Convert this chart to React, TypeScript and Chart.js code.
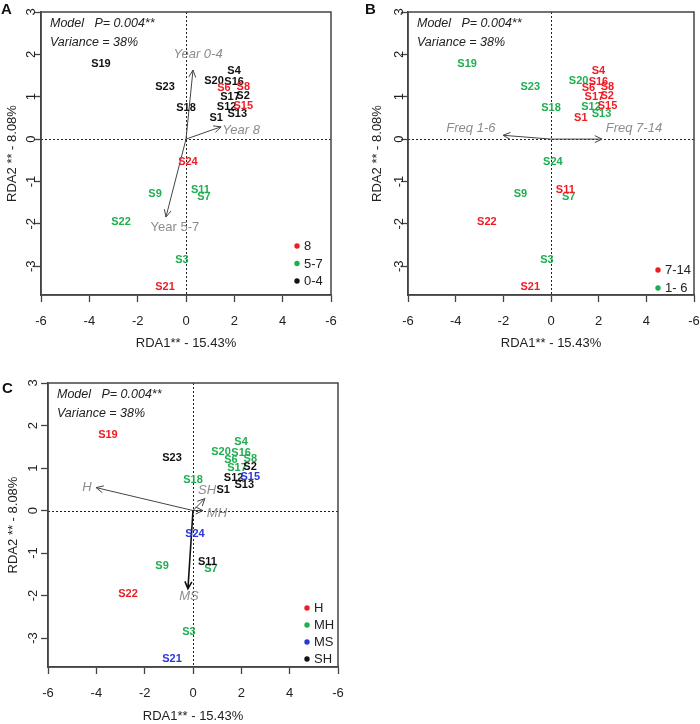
import React, { useEffect, useRef } from "react";
import { Chart, registerables } from "chart.js";

Chart.register(...registerables);

// ---------- data ----------
const siteNames = ["S19", "S23", "S18", "S20", "S4", "S16", "S6", "S8", "S17", "S2", "S12", "S15", "S13", "S1", "S24", "S9", "S11", "S7", "S22", "S3", "S21"];
const siteRDA1 = [-3.52, -0.87, 0.0, 1.16, 1.99, 1.99, 1.57, 2.37, 1.82, 2.36, 1.68, 2.37, 2.12, 1.25, 0.08, -1.28, 0.6, 0.74, -2.69, -0.17, -0.87];
const siteRDA2 = [1.77, 1.23, 0.73, 1.37, 1.61, 1.35, 1.2, 1.22, 0.99, 1.02, 0.76, 0.78, 0.59, 0.49, -0.54, -1.3, -1.21, -1.37, -1.96, -2.86, -3.48];

// Panel A: years
const groupsA = ["0-4", "0-4", "0-4", "0-4", "0-4", "0-4", "8", "8", "0-4", "0-4", "0-4", "8", "0-4", "0-4", "8", "5-7", "5-7", "5-7", "5-7", "5-7", "8"];
const legendA = ["8", "5-7", "0-4"];
const drawOrderA = ["0-4", "5-7", "8"];
const arrowNamesA = ["Year 0-4", "Year 8", "Year 5-7"];
const arrowXA = [0.29, 1.45, -0.83];
const arrowYA = [1.63, 0.29, -1.84];
const arrowLabelXA = [0.5, 2.28, -0.46];
const arrowLabelYA = [2.01, 0.21, -2.08];
const arrowItalicA = [true, true, false];

// Panel B: frequency
const groupsB = ["1-6", "1-6", "1-6", "1-6", "7-14", "7-14", "7-14", "7-14", "7-14", "7-14", "1-6", "7-14", "1-6", "7-14", "1-6", "1-6", "7-14", "1-6", "7-14", "1-6", "7-14"];
const legendB = ["7-14", "1-6"];
const legendTextB = ["7-14", "1- 6"];
const drawOrderB = ["1-6", "7-14"];
const arrowNamesB = ["Freq 1-6", "Freq 7-14"];
const arrowXB = [-2.01, 2.14];
const arrowYB = [0.09, 0.0];
const arrowLabelXB = [-3.36, 3.48];
const arrowLabelYB = [0.26, 0.26];
const arrowItalicB = [true, true];

// Panel C: habitat
const groupsC = ["H", "SH", "MH", "MH", "MH", "MH", "MH", "MH", "MH", "SH", "SH", "MS", "SH", "SH", "MS", "MH", "SH", "MH", "H", "MH", "MS"];
const legendC = ["H", "MH", "MS", "SH"];
const drawOrderC = ["MH", "SH", "MS", "H"];
const arrowNamesC = ["H", "SH", "MH", "MS"];
const arrowXC = [-4.01, 0.49, 0.41, -0.21];
const arrowYC = [0.54, 0.28, 0.0, -1.84];
const arrowLabelXC = [-4.39, 0.58, 0.99, -0.17];
const arrowLabelYC = [0.54, 0.47, -0.07, -2.02];
const arrowItalicC = [true, true, true, true];

const xTickValues = [-6, -4, -2, 0, 2, 4, 6];
const xTickLabels = ["-6", "-4", "-2", "0", "2", "4", "-6"];
const yTickValues = [-3, -2, -1, 0, 1, 2, 3];
const xTitle = "RDA1** - 15.43%";
const yTitle = "RDA2 ** - 8.08%";
const modelLine1 = "Model   P= 0.004**";
const modelLine2 = "Variance = 38%";

// ---------- styles ----------
const FONT = "'Liberation Sans', Arial, sans-serif";
const RED = "#ee1c24";
const GREEN = "#1fae50";
const BLUE = "#2a36d8";
const BLACK = "#111111";
const AXIS = "#444444";

const colorMap: Record<string, string> = {
  "8": RED, "5-7": GREEN, "0-4": BLACK,
  "7-14": RED, "1-6": GREEN,
  H: RED, MH: GREEN, MS: BLUE, SH: BLACK,
};

type PanelProps = {
  left: number; top: number; width: number; height: number;
  area: { l: number; t: number; r: number; b: number };
  groups: string[]; drawOrder: string[]; legend: string[]; legendText?: string[];
  arrowNames: string[]; arrowX: number[]; arrowY: number[]; arrowLX: number[]; arrowLY: number[]; arrowItalic: boolean[];
  arrowStyle?: (name: string) => { color: string; width: number };
  legendPos: { x: number; y: number; dy: number };
  xTitlePad: number; yTitlePad: number; yTickOffset: number;
};

function Panel(p: PanelProps) {
  const ref = useRef<HTMLCanvasElement | null>(null);
  useEffect(() => {
    if (!ref.current) return;
    const datasets = p.drawOrder.map((g) => ({
      label: g,
      data: siteNames
        .map((n, i) => ({ x: siteRDA1[i], y: siteRDA2[i], name: n, g: p.groups[i] }))
        .filter((d) => d.g === g),
      pointRadius: 0,
      pointHoverRadius: 0,
      showLine: false,
      backgroundColor: colorMap[g],
      borderColor: colorMap[g],
    }));

    const biplot = {
      id: "biplot",
      beforeDatasetsDraw(chart: any) {
        const { ctx, chartArea: ca, scales } = chart;
        const xs = scales.x, ys = scales.y;
        ctx.save();
        ctx.strokeStyle = "#222";
        ctx.lineWidth = 1;
        ctx.setLineDash([2, 2]);
        const x0 = Math.round(xs.getPixelForValue(0)) + 0.5;
        const y0 = Math.round(ys.getPixelForValue(0)) + 0.5;
        ctx.beginPath();
        ctx.moveTo(x0, ca.top); ctx.lineTo(x0, ca.bottom);
        ctx.moveTo(ca.left, y0); ctx.lineTo(ca.right, y0);
        ctx.stroke();
        ctx.setLineDash([]);
        ctx.strokeStyle = AXIS;
        ctx.lineWidth = 1.5;
        ctx.strokeRect(ca.left, ca.top, ca.right - ca.left, ca.bottom - ca.top);
        ctx.restore();
      },
      afterDatasetsDraw(chart: any) {
        const { ctx, chartArea: ca, scales } = chart;
        const xs = scales.x, ys = scales.y;
        ctx.save();
        // y tick labels, rotated as in R
        ctx.fillStyle = "#222";
        ctx.font = `13px ${FONT}`;
        ctx.textAlign = "center";
        ctx.textBaseline = "middle";
        yTickValues.forEach((v) => {
          const py = ys.getPixelForValue(v);
          ctx.save();
          ctx.translate(ca.left - p.yTickOffset, py);
          ctx.rotate(-Math.PI / 2);
          ctx.fillText(String(v), 0, 0);
          ctx.restore();
        });
        // arrows
        const ox = xs.getPixelForValue(0), oy = ys.getPixelForValue(0);
        p.arrowNames.forEach((name, i) => {
          const st = p.arrowStyle ? p.arrowStyle(name) : { color: "#444", width: 1 };
          const tx = xs.getPixelForValue(p.arrowX[i]);
          const ty = ys.getPixelForValue(p.arrowY[i]);
          const ang = Math.atan2(ty - oy, tx - ox);
          const hl = 8, spread = Math.PI / 7;
          ctx.strokeStyle = st.color;
          ctx.lineWidth = st.width;
          ctx.beginPath();
          ctx.moveTo(ox, oy); ctx.lineTo(tx, ty);
          ctx.moveTo(tx - hl * Math.cos(ang - spread), ty - hl * Math.sin(ang - spread));
          ctx.lineTo(tx, ty);
          ctx.lineTo(tx - hl * Math.cos(ang + spread), ty - hl * Math.sin(ang + spread));
          ctx.stroke();
          ctx.fillStyle = "#8c8c8c";
          ctx.font = `${p.arrowItalic[i] ? "italic " : ""}13px ${FONT}`;
          ctx.textAlign = "center";
          ctx.textBaseline = "middle";
          ctx.fillText(name, xs.getPixelForValue(p.arrowLX[i]), ys.getPixelForValue(p.arrowLY[i]));
        });
        // site labels
        ctx.font = `bold 11px ${FONT}`;
        ctx.textAlign = "center";
        ctx.textBaseline = "middle";
        chart.data.datasets.forEach((ds: any, di: number) => {
          const meta = chart.getDatasetMeta(di);
          ctx.fillStyle = ds.borderColor;
          meta.data.forEach((el: any, j: number) => {
            ctx.fillText(ds.data[j].name, el.x, el.y);
          });
        });
        // model text
        ctx.fillStyle = "#222";
        ctx.font = `italic 12.5px ${FONT}`;
        ctx.textAlign = "left";
        ctx.fillText(modelLine1, ca.left + 9, ca.top + 12);
        ctx.fillText(modelLine2, ca.left + 9, ca.top + 31);
        // legend
        p.legend.forEach((g, i) => {
          const ly = p.legendPos.y + i * p.legendPos.dy;
          ctx.fillStyle = colorMap[g];
          ctx.beginPath();
          ctx.arc(p.legendPos.x, ly, 2.7, 0, Math.PI * 2);
          ctx.fill();
          ctx.fillStyle = "#222";
          ctx.font = `13px ${FONT}`;
          ctx.textAlign = "left";
          ctx.fillText(p.legendText ? p.legendText[i] : g, p.legendPos.x + 7, ly + 0.5);
        });
        ctx.restore();
      },
    };

    const chart = new Chart(ref.current, {
      type: "scatter",
      data: { datasets },
      plugins: [biplot],
      options: {
        animation: false,
        responsive: false,
        events: [],
        layout: { padding: { left: 0, top: p.area.t, right: p.width - p.area.r, bottom: 0 } },
        plugins: { legend: { display: false }, tooltip: { enabled: false } },
        scales: {
          x: {
            type: "linear",
            position: "bottom",
            min: -6,
            max: 6,
            afterBuildTicks: (s: any) => { s.ticks = xTickValues.map((v) => ({ value: v })); },
            afterFit: (s: any) => {
              s.height = p.height - p.area.b;
              s.paddingLeft = 0;
              s.paddingRight = 0;
            },
            ticks: {
              callback: (_v: any, i: number) => xTickLabels[i],
              font: { family: FONT, size: 13 },
              color: "#222",
              padding: 12,
              maxRotation: 0,
              minRotation: 0,
              autoSkip: false,
            },
            grid: { display: true, drawOnChartArea: false, drawTicks: true, tickLength: 7, tickColor: AXIS, tickWidth: 1.3 },
            border: { display: true, color: AXIS, width: 1.5 },
            title: { display: true, text: xTitle, font: { family: FONT, size: 13 }, color: "#222", padding: { top: 0, bottom: p.xTitlePad } },
          },
          y: {
            type: "linear",
            min: -3.68,
            max: 3,
            afterBuildTicks: (s: any) => { s.ticks = yTickValues.map((v) => ({ value: v })); },
            afterFit: (s: any) => {
              s.width = p.area.l;
              s.paddingTop = 0;
              s.paddingBottom = 0;
            },
            ticks: { display: false },
            grid: { display: true, drawOnChartArea: false, drawTicks: true, tickLength: 7, tickColor: AXIS, tickWidth: 1.3 },
            border: { display: true, color: AXIS, width: 1.5 },
            title: { display: true, text: yTitle, font: { family: FONT, size: 13 }, color: "#222", padding: { top: p.yTitlePad, bottom: 0 } },
          },
        },
      } as any,
    });
    return () => chart.destroy();
  }, []);
  return (
    <canvas
      ref={ref}
      width={p.width}
      height={p.height}
      style={{ position: "absolute", left: p.left, top: p.top, width: p.width, height: p.height }}
    />
  );
}

const labelStyle: React.CSSProperties = {
  position: "absolute",
  font: `bold 15px ${FONT}`,
  color: "#111",
  lineHeight: "17px",
};

export default function App() {
  return (
    <div style={{ position: "absolute", left: 0, top: 0, width: 700, height: 724, background: "#fff", overflow: "hidden" }}>
      <Panel
        left={0} top={0} width={350} height={362}
        area={{ l: 41, t: 12, r: 331, b: 295 }}
        groups={groupsA} drawOrder={drawOrderA} legend={legendA}
        arrowNames={arrowNamesA} arrowX={arrowXA} arrowY={arrowYA} arrowLX={arrowLabelXA} arrowLY={arrowLabelYA} arrowItalic={arrowItalicA}
        legendPos={{ x: 297, y: 246, dy: 17.5 }}
        xTitlePad={11} yTitlePad={5} yTickOffset={10}
      />
      <Panel
        left={350} top={0} width={350} height={362}
        area={{ l: 58, t: 12, r: 344, b: 295 }}
        groups={groupsB} drawOrder={drawOrderB} legend={legendB} legendText={legendTextB}
        arrowNames={arrowNamesB} arrowX={arrowXB} arrowY={arrowYB} arrowLX={arrowLabelXB} arrowLY={arrowLabelYB} arrowItalic={arrowItalicB}
        legendPos={{ x: 308, y: 270, dy: 18 }}
        xTitlePad={11} yTitlePad={20} yTickOffset={9}
      />
      <Panel
        left={0} top={362} width={350} height={362}
        area={{ l: 48, t: 21, r: 338, b: 305 }}
        groups={groupsC} drawOrder={drawOrderC} legend={legendC}
        arrowNames={arrowNamesC} arrowX={arrowXC} arrowY={arrowYC} arrowLX={arrowLabelXC} arrowLY={arrowLabelYC} arrowItalic={arrowItalicC}
        arrowStyle={(n) => (n === "MS" ? { color: "#111", width: 1.6 } : { color: "#444", width: 1 })}
        legendPos={{ x: 307, y: 246, dy: 17 }}
        xTitlePad={0} yTitlePad={6} yTickOffset={15}
      />
      <div style={{ ...labelStyle, left: 1, top: 0 }}>A</div>
      <div style={{ ...labelStyle, left: 365, top: 0 }}>B</div>
      <div style={{ ...labelStyle, left: 2, top: 379 }}>C</div>
    </div>
  );
}
